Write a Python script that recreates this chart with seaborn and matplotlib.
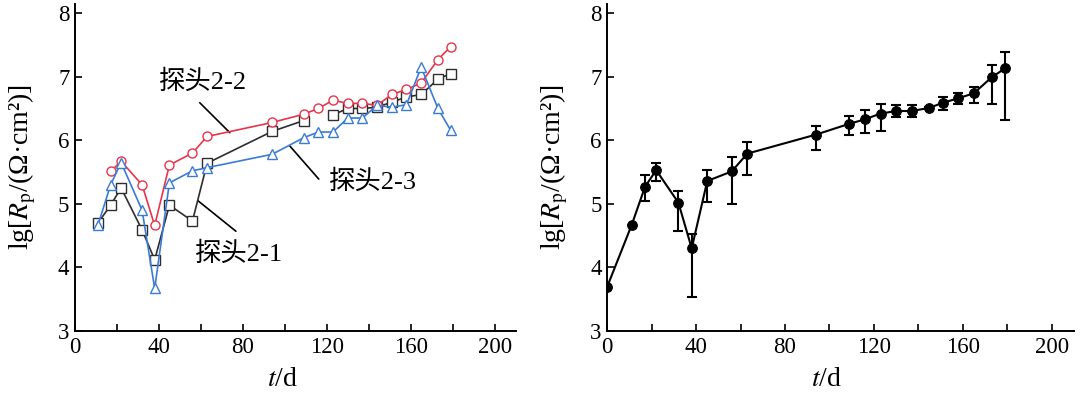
import matplotlib
matplotlib.use("Agg")
import matplotlib.pyplot as plt
import numpy as np
import pandas as pd
import seaborn as sns
from matplotlib.ticker import MultipleLocator

sns.set_style("ticks")
plt.rcParams["font.family"] = ["Liberation Serif", "Noto Sans CJK SC"]
plt.rcParams["mathtext.fontset"] = "stix"
for key in ("text.color", "axes.labelcolor", "xtick.color", "ytick.color", "axes.edgecolor"):
    plt.rcParams[key] = "black"

# left panel: three probes (NaN = missing point, breaks the line)
t_probe = [11, 17, 22, 32, 38, 45, 56, 63, 94, 109, 116, 123, 130, 137, 144, 151, 158, 165, 173, 179]
probe_21 = [4.70, 4.98, 5.25, 4.59, 4.12, 4.98, 4.73, 5.64, 6.14, 6.31, np.nan, 6.40, 6.50, 6.50,
            6.52, 6.60, 6.68, 6.72, 6.96, 7.05]
probe_22 = [np.nan, 5.51, 5.67, 5.30, 4.66, 5.61, 5.80, 6.06, 6.28, 6.41, 6.50, 6.63, 6.58, 6.58,
            6.55, 6.72, 6.80, 6.90, 7.27, 7.47]
probe_23 = [4.67, 5.30, 5.65, 4.90, 3.67, 5.33, 5.52, 5.57, 5.78, 6.04, 6.13, 6.13, 6.35, 6.35,
            6.55, 6.52, 6.56, 7.15, 6.50, 6.16]

# right panel: mean with error bars
t_mean = [0, 11, 17, 22, 32, 38, 45, 56, 63, 94, 109, 116, 123, 130, 137, 145, 151, 158, 165, 173, 179]
mean_rp = [3.70, 4.67, 5.27, 5.53, 5.02, 4.30, 5.36, 5.51, 5.79, 6.09, 6.26, 6.33, 6.42, 6.46, 6.46,
           6.51, 6.59, 6.66, 6.74, 6.99, 7.13]
err_hi = [3.70, 4.67, 5.45, 5.65, 5.20, 4.53, 5.54, 5.74, 5.97, 6.23, 6.38, 6.48, 6.57, 6.56, 6.56,
          6.53, 6.68, 6.75, 6.84, 7.19, 7.39]
err_lo = [3.70, 4.67, 5.05, 5.36, 4.58, 3.53, 5.03, 5.00, 5.46, 5.85, 6.08, 6.12, 6.14, 6.36, 6.37,
          6.49, 6.48, 6.57, 6.58, 6.57, 6.32]

probes = {
    "探头2-1": (probe_21, "#2e2e2e", "s"),
    "探头2-2": (probe_22, "#e8344a", "o"),
    "探头2-3": (probe_23, "#3b7bd6", "^"),
}

fig = plt.figure(figsize=(10.8, 3.96), dpi=100)
ax1 = fig.add_axes([0.0694, 0.164, 0.408, 0.827])
ax2 = fig.add_axes([0.5623, 0.164, 0.432, 0.827])

for name, (vals, color, mk) in probes.items():
    df = pd.DataFrame({"t": t_probe, "v": vals})
    # split into segments at missing values so the line is broken there
    df["seg"] = df["v"].isna().cumsum()
    df = df.dropna()
    for _, seg in df.groupby("seg"):
        sns.lineplot(data=seg, x="t", y="v", ax=ax1, color=color, lw=1.2,
                     marker=mk, markersize=6.5, markerfacecolor="white",
                     markeredgecolor=color, markeredgewidth=1.0, zorder=3)

# probe labels with leader lines
lbl = dict(fontsize=19, ha="center", va="center")
ax1.text(61, 6.92, "探头2-2", **lbl)
ax1.plot([59.5, 73.8], [6.59, 6.12], color="black", lw=1.2)
ax1.text(142, 5.34, "探头2-3", **lbl)
ax1.plot([102.4, 116.2], [5.91, 5.39], color="black", lw=1.2)
ax1.text(78, 4.21, "探头2-1", **lbl)
ax1.plot([58.6, 76.7], [5.05, 4.57], color="black", lw=1.2)

df_mean = pd.DataFrame({"t": t_mean, "v": mean_rp})
sns.lineplot(data=df_mean, x="t", y="v", ax=ax2, color="black", lw=1.5,
             marker="o", markersize=7, markeredgecolor="black", zorder=3)
yerr = np.array([np.array(mean_rp) - np.array(err_lo), np.array(err_hi) - np.array(mean_rp)])
ax2.errorbar(t_mean, mean_rp, yerr=yerr, fmt="none", ecolor="black", elinewidth=1.5,
             capsize=3.5, capthick=1.5)

for ax, ylx in ((ax1, -0.084), (ax2, -0.079)):
    ax.set_xlim(0, 210)
    ax.set_ylim(3, 8.15)
    ax.xaxis.set_major_locator(MultipleLocator(40))
    ax.xaxis.set_minor_locator(MultipleLocator(20))
    ax.yaxis.set_major_locator(MultipleLocator(1))
    ax.tick_params(which="both", direction="in", length=5, width=1.2, labelsize=16.5, pad=4)
    sns.despine(ax=ax)
    for s in ("left", "bottom"):
        ax.spines[s].set_linewidth(1.4)
    ax.set_xlabel(r"$t$/d", fontsize=20)
    ax.set_ylabel(r"lg[$R_\mathrm{p}$/(Ω·cm²)]", fontsize=20)
    ax.xaxis.set_label_coords(0.47, -0.11)
    ax.yaxis.set_label_coords(ylx, 0.5)

fig.savefig("out.png", dpi=100)
